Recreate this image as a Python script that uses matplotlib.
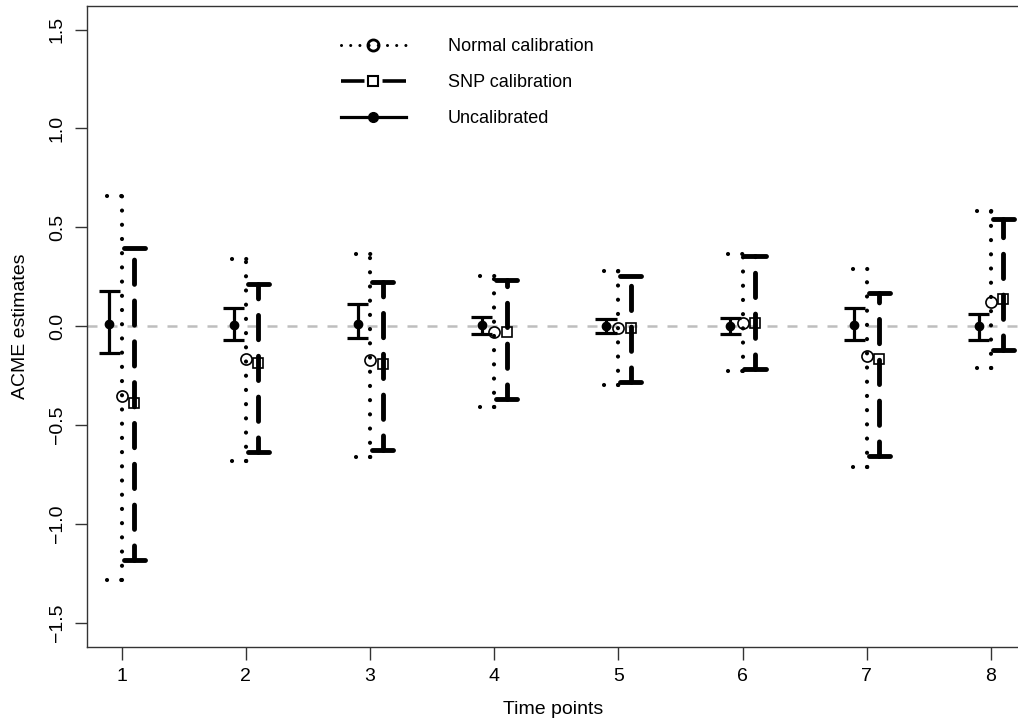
import numpy as np
import matplotlib
matplotlib.use("Agg")
import matplotlib.pyplot as plt
from matplotlib.lines import Line2D

plt.rcParams["font.family"] = ["Liberation Sans", "DejaVu Sans"]

# ----------------------- DATA -----------------------
time_points = [1, 2, 3, 4, 5, 6, 7, 8]

uncal_est = [0.010, 0.005, 0.010, 0.005, 0.000, 0.000, 0.005, 0.000]
uncal_lo  = [-0.135, -0.070, -0.060, -0.040, -0.035, -0.040, -0.070, -0.070]
uncal_hi  = [0.180, 0.090, 0.115, 0.045, 0.035, 0.040, 0.093, 0.064]

norm_est = [-0.355, -0.165, -0.170, -0.030, -0.010, 0.015, -0.150, 0.123]
norm_lo  = [-1.285, -0.680, -0.660, -0.410, -0.295, -0.225, -0.710, -0.210]
norm_hi  = [0.658, 0.340, 0.365, 0.255, 0.280, 0.365, 0.287, 0.583]

snp_est = [-0.390, -0.185, -0.190, -0.030, -0.010, 0.015, -0.168, 0.137]
snp_lo  = [-1.180, -0.635, -0.625, -0.370, -0.280, -0.215, -0.655, -0.120]
snp_hi  = [0.398, 0.215, 0.225, 0.235, 0.255, 0.355, 0.170, 0.540]
# ----------------------------------------------------

x = np.asarray(time_points, dtype=float)
x_unc = x - 0.1
x_nor = x
x_snp = x + 0.1
cap = 0.085

dotted = (0, (0.01, 3.4))
dashed = (2.0, (5.0, 3.4))

fig = plt.figure(figsize=(10.18, 7.25), dpi=100)
# plot region runs a little past the right edge (right box line cut off)
ax = fig.add_axes([0.0852, 0.108, 0.9168, 0.884])

ax.axhline(0, color="#bebebe", lw=1.8, ls=(0, (4, 4)), zorder=1)

# uncalibrated
ax.vlines(x_unc, uncal_lo, uncal_hi, color="black", lw=2.3, zorder=3)
ax.hlines(uncal_lo, x_unc - cap, x_unc + cap, color="black", lw=2.3, zorder=3)
ax.hlines(uncal_hi, x_unc - cap, x_unc + cap, color="black", lw=2.3, zorder=3)
ax.plot(x_unc, uncal_est, "o", color="black", ms=6, zorder=4)

# normal calibration (dotted)
kw_dot = dict(color="black", lw=3, linestyles=[dotted], capstyle="round", zorder=3)
ax.vlines(x_nor, norm_lo, norm_hi, **kw_dot)
ax.hlines(norm_lo, x_nor - 0.115, x_nor + 0.05, **kw_dot)
ax.hlines(norm_hi, x_nor - 0.115, x_nor + 0.05, **kw_dot)
ax.plot(x_nor, norm_est, "o", mfc="none", mec="black", mew=1.2, ms=8, zorder=4)

# SNP calibration (long dash)
kw_dash = dict(color="black", lw=3.5, capstyle="round", zorder=3)
ax.vlines(x_snp, snp_lo, snp_hi, linestyles=[dashed], **kw_dash)
ax.hlines(snp_lo, x_snp - cap, x_snp + cap, **kw_dash)
ax.hlines(snp_hi, x_snp - cap, x_snp + cap, **kw_dash)
ax.plot(x_snp, snp_est, "s", mfc="none", mec="black", mew=1.2, ms=7.5, zorder=4)

ax.set_xlim(0.718, 8.234)
ax.set_ylim(-1.62, 1.62)
ax.set_xticks(time_points)
ax.set_yticks([-1.5, -1.0, -0.5, 0.0, 0.5, 1.0, 1.5])
ax.set_yticklabels(["\u22121.5", "\u22121.0", "\u22120.5", "0.0", "0.5", "1.0", "1.5"],
                   rotation=90, va="center")
ax.tick_params(length=9, width=1, color="#333333", labelsize=14, pad=6)
for s in ax.spines.values():
    s.set_color("#333333")
    s.set_linewidth(1)
ax.set_xlabel("Time points", fontsize=14, labelpad=12)
ax.set_ylabel("ACME estimates", fontsize=14, labelpad=14)

handles = [
    Line2D([0], [0], color="black", lw=2.2, ls=(0, (0.01, 3.0)), dash_capstyle="round",
           marker="o", mfc="none", mec="black", mew=2, ms=8),
    Line2D([0], [0], color="black", lw=2.6, ls=(0, (6.5, 5.0)),
           marker="s", mfc="none", mec="black", mew=1.5, ms=7),
    Line2D([0], [0], color="black", lw=2.3, marker="o", ms=7),
]
labels = ["Normal calibration", "SNP calibration", "Uncalibrated"]
ax.legend(handles, labels, loc="upper left", bbox_to_anchor=(0.255, 0.975), frameon=False,
          fontsize=13, handlelength=3.6, handletextpad=2.3, labelspacing=1.05)

fig.savefig("out.png", dpi=100)
